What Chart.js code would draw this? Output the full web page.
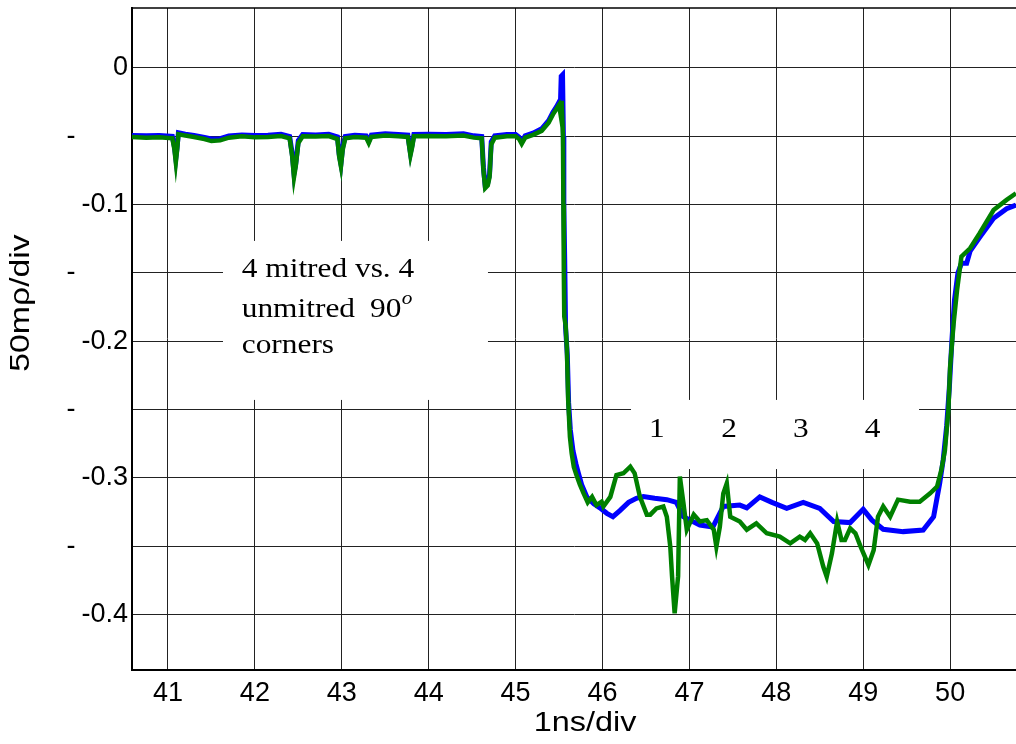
<!DOCTYPE html>
<html>
<head>
<meta charset="utf-8">
<script src="https://cdn.jsdelivr.net/npm/chart.js@4.4.0/dist/chart.umd.min.js"></script>
<style>
  html, body { margin: 0; padding: 0; background: #fff; }
</style>
</head>
<body>
<canvas id="tdr" width="1016" height="744"></canvas>
<script>
// TDR traces: 4 mitred (blue) vs 4 unmitred (green) 90 deg corners
const xTicks = [41, 42, 43, 44, 45, 46, 47, 48, 49, 50];
const yTicks = [0, -0.05, -0.1, -0.15, -0.2, -0.25, -0.3, -0.35, -0.4];

const blueX = [40.586, 40.75, 40.9, 41.05, 41.075, 41.09, 41.105, 41.12, 41.2, 41.3, 41.42, 41.5, 41.6, 41.7, 41.85, 42.0, 42.15, 42.3, 42.4, 42.43, 42.45, 42.47, 42.5, 42.55, 42.7, 42.85, 42.95, 42.97, 42.99, 43.01, 43.04, 43.15, 43.28, 43.31, 43.34, 43.5, 43.65, 43.76, 43.79, 43.81, 43.83, 44.0, 44.2, 44.4, 44.52, 44.61, 44.63, 44.65, 44.68, 44.70, 44.72, 44.76, 44.9, 45.0, 45.04, 45.07, 45.11, 45.2, 45.3, 45.38, 45.43, 45.47, 45.50, 45.515, 45.525, 45.54, 45.55, 45.555, 45.565, 45.575, 45.595, 45.61, 45.63, 45.66, 45.695, 45.72, 45.76, 45.82, 45.90, 45.97, 46.05, 46.12, 46.2, 46.3, 46.39, 46.47, 46.6, 46.74, 46.85, 46.93, 47.12, 47.27, 47.39, 47.58, 47.66, 47.81, 47.95, 48.12, 48.31, 48.5, 48.66, 48.85, 49.0, 49.1, 49.23, 49.46, 49.69, 49.81, 49.88, 49.92, 49.96, 49.99, 50.02, 50.05, 50.09, 50.13, 50.19, 50.23, 50.34, 50.50, 50.65, 50.758];
const blueY = [-0.0495, -0.0497, -0.0495, -0.0500, -0.058, -0.066, -0.058, -0.0475, -0.0485, -0.0495, -0.0508, -0.0520, -0.0518, -0.0498, -0.0490, -0.0495, -0.0492, -0.0485, -0.0502, -0.063, -0.077, -0.070, -0.053, -0.0488, -0.0490, -0.0485, -0.0505, -0.063, -0.070, -0.058, -0.0502, -0.0492, -0.0497, -0.0535, -0.0492, -0.0482, -0.0487, -0.0492, -0.062, -0.056, -0.0487, -0.0485, -0.0487, -0.0482, -0.0497, -0.0502, -0.073, -0.086, -0.084, -0.078, -0.054, -0.0497, -0.0487, -0.0487, -0.0507, -0.0540, -0.0497, -0.0477, -0.0445, -0.0385, -0.0325, -0.0285, -0.0250, -0.0280, -0.0060, -0.0050, -0.0500, -0.1000, -0.1400, -0.1900, -0.2100, -0.2450, -0.2650, -0.2800, -0.2900, -0.2960, -0.3050, -0.3140, -0.3190, -0.3220, -0.3260, -0.3285, -0.324, -0.318, -0.3150, -0.3138, -0.3150, -0.316, -0.318, -0.3285, -0.3346, -0.336, -0.321, -0.320, -0.322, -0.314, -0.318, -0.3223, -0.318, -0.3225, -0.332, -0.3328, -0.3231, -0.331, -0.3377, -0.3394, -0.3382, -0.3285, -0.304, -0.287, -0.262, -0.235, -0.200, -0.170, -0.150, -0.143, -0.143, -0.134, -0.124, -0.110, -0.103, -0.1003];

const greenX = [40.586, 40.75, 40.9, 41.05, 41.075, 41.09, 41.105, 41.12, 41.2, 41.3, 41.42, 41.5, 41.6, 41.7, 41.85, 42.0, 42.15, 42.3, 42.4, 42.43, 42.45, 42.47, 42.5, 42.55, 42.7, 42.85, 42.95, 42.97, 42.99, 43.01, 43.04, 43.15, 43.28, 43.31, 43.34, 43.5, 43.65, 43.76, 43.79, 43.81, 43.83, 44.0, 44.2, 44.4, 44.52, 44.61, 44.63, 44.65, 44.68, 44.70, 44.72, 44.76, 44.9, 45.0, 45.04, 45.07, 45.11, 45.2, 45.3, 45.38, 45.43, 45.47, 45.50, 45.515, 45.53, 45.545, 45.55, 45.555, 45.56, 45.575, 45.59, 45.605, 45.625, 45.645, 45.67, 45.70, 45.74, 45.78, 45.83, 45.88, 45.93, 45.99, 46.01, 46.09, 46.16, 46.24, 46.32, 46.37, 46.43, 46.51, 46.55, 46.62, 46.70, 46.74, 46.78, 46.80, 46.83, 46.87, 46.89, 46.93, 46.97, 47.05, 47.12, 47.20, 47.28, 47.31, 47.35, 47.39, 47.43, 47.47, 47.58, 47.66, 47.77, 47.89, 48.04, 48.16, 48.27, 48.33, 48.39, 48.47, 48.54, 48.58, 48.64, 48.70, 48.75, 48.79, 48.85, 48.91, 48.97, 49.06, 49.12, 49.17, 49.23, 49.31, 49.40, 49.54, 49.65, 49.77, 49.85, 49.90, 49.94, 49.98, 50.00, 50.04, 50.08, 50.13, 50.23, 50.34, 50.50, 50.65, 50.758];
const greenY = [-0.0505, -0.0510, -0.0508, -0.0515, -0.060, -0.069, -0.060, -0.0485, -0.0495, -0.0505, -0.0520, -0.0535, -0.0530, -0.0510, -0.0500, -0.0508, -0.0505, -0.0498, -0.0515, -0.065, -0.080, -0.072, -0.055, -0.0500, -0.0502, -0.0498, -0.0520, -0.065, -0.072, -0.060, -0.0515, -0.0505, -0.0510, -0.0550, -0.0505, -0.0495, -0.0500, -0.0505, -0.064, -0.058, -0.0500, -0.0498, -0.0500, -0.0495, -0.0510, -0.0515, -0.075, -0.088, -0.086, -0.080, -0.056, -0.0510, -0.0500, -0.0500, -0.0520, -0.0555, -0.0510, -0.0490, -0.0460, -0.0400, -0.0340, -0.0300, -0.0270, -0.0330, -0.0240, -0.0500, -0.1000, -0.1500, -0.1820, -0.1880, -0.2050, -0.2430, -0.2700, -0.2820, -0.2920, -0.2980, -0.3050, -0.3110, -0.3180, -0.3140, -0.3200, -0.3175, -0.321, -0.314, -0.298, -0.2967, -0.2919, -0.2967, -0.3138, -0.327, -0.327, -0.3224, -0.321, -0.3285, -0.3504, -0.372, -0.3992, -0.372, -0.299, -0.318, -0.338, -0.327, -0.332, -0.331, -0.338, -0.3504, -0.336, -0.3114, -0.304, -0.3285, -0.332, -0.338, -0.3333, -0.3406, -0.3431, -0.348, -0.3431, -0.3455, -0.3406, -0.348, -0.365, -0.3724, -0.3553, -0.332, -0.3455, -0.3455, -0.337, -0.3406, -0.3504, -0.3638, -0.353, -0.3285, -0.321, -0.3285, -0.316, -0.3175, -0.3175, -0.3114, -0.3065, -0.294, -0.280, -0.2504, -0.2187, -0.187, -0.1625, -0.138, -0.132, -0.121, -0.104, -0.0966, -0.0918];

const cornerLabels = ['1', '2', '3', '4'];
const cornerLabelX = [46.624, 47.456, 48.281, 49.109];

const SANS = "'Liberation Sans', Arial, sans-serif";
const SERIF = "'Liberation Serif', 'Times New Roman', serif";

function toPoints(xs, ys) {
    return xs.map((x, i) => ({ x: x, y: ys[i] }));
}

function stretchedText(ctx, str, x, y, sx) {
    ctx.save();
    ctx.translate(x, y);
    ctx.scale(sx, 1);
    ctx.fillText(str, 0, 0);
    ctx.restore();
}

// white label boxes + annotation text, drawn over the grid but under the traces
const annotations = {
    id: 'annotations',
    beforeDatasetsDraw(chart) {
        const ctx = chart.ctx;
        const xs = chart.scales.x, ys = chart.scales.y;
        const px = v => xs.getPixelForValue(v);
        const py = v => ys.getPixelForValue(v);
        ctx.save();
        ctx.fillStyle = '#fff';
        ctx.fillRect(px(41.633), py(-0.1266), px(44.682) - px(41.633), py(-0.243) - py(-0.1266));
        ctx.fillRect(px(46.328), py(-0.243), px(49.642) - px(46.328), py(-0.2936) - py(-0.243));

        ctx.fillStyle = '#000';
        ctx.textBaseline = 'alphabetic';
        ctx.textAlign = 'left';
        ctx.font = '28px ' + SERIF;
        stretchedText(ctx, '4 mitred vs. 4', px(41.849), py(-0.153), 1.12);
        stretchedText(ctx, 'unmitred', px(41.849), py(-0.1823), 1.12);
        stretchedText(ctx, '90', px(43.324), py(-0.1823), 1.12);
        stretchedText(ctx, 'corners', px(41.849), py(-0.2084), 1.12);
        ctx.font = 'italic 19px ' + SERIF;
        stretchedText(ctx, 'o', px(43.69), py(-0.1725), 1.12);

        ctx.font = '28px ' + SERIF;
        ctx.textAlign = 'center';
        cornerLabels.forEach((t, i) => stretchedText(ctx, t, px(cornerLabelX[i]), py(-0.2703), 1.12));
        ctx.restore();
    },
    afterDraw(chart) {
        const ctx = chart.ctx;
        const a = chart.chartArea;
        ctx.save();
        // top frame line
        ctx.strokeStyle = '#000';
        ctx.lineWidth = 1.5;
        ctx.beginPath();
        ctx.moveTo(a.left, a.top);
        ctx.lineTo(a.right, a.top);
        ctx.stroke();
        // axis titles
        ctx.fillStyle = '#000';
        ctx.font = '27px ' + SANS;
        ctx.textAlign = 'center';
        ctx.textBaseline = 'middle';
        stretchedText(ctx, '1ns/div', 585, 724, 1.2);
        ctx.translate(22, 303);
        ctx.rotate(-Math.PI / 2);
        stretchedText(ctx, '50m\u03C1/div', 0, 0, 1.25);
        ctx.restore();
    }
};

new Chart(document.getElementById('tdr'), {
    type: 'scatter',
    data: {
        datasets: [
            {
                label: 'unmitred',
                data: toPoints(greenX, greenY),
                showLine: true,
                borderColor: '#008000',
                borderWidth: 4.5,
                pointRadius: 0,
                tension: 0,
                order: 0
            },
            {
                label: 'mitred',
                data: toPoints(blueX, blueY),
                showLine: true,
                borderColor: '#0000ff',
                borderWidth: 5,
                pointRadius: 0,
                tension: 0,
                order: 1
            }
        ]
    },
    options: {
        responsive: false,
        animation: false,
        layout: { padding: { top: 8, right: 0, left: 0, bottom: 0 } },
        plugins: {
            legend: { display: false },
            tooltip: { enabled: false }
        },
        scales: {
            x: {
                type: 'linear',
                min: 40.586,
                max: 50.758,
                afterBuildTicks: s => { s.ticks = xTicks.map(v => ({ value: v })); },
                afterFit: s => { s.height = 74; s.paddingLeft = 0; s.paddingRight = 0; },
                grid: { color: '#222', lineWidth: 1, drawTicks: false },
                border: { display: true, color: '#000', width: 2 },
                ticks: {
                    color: '#000',
                    font: { family: SANS, size: 27 },
                    padding: 7,
                    maxRotation: 0,
                    callback: v => String(v)
                }
            },
            y: {
                type: 'linear',
                min: -0.4407,
                max: 0.0439,
                afterBuildTicks: s => { s.ticks = yTicks.map(v => ({ value: v })); },
                afterFit: s => { s.width = 132; s.paddingTop = 0; s.paddingBottom = 0; },
                grid: { color: '#222', lineWidth: 1, drawTicks: false },
                border: { display: true, color: '#000', width: 2 },
                ticks: {
                    color: '#000',
                    font: { family: SANS, size: 27 },
                    padding: 4,
                    callback: v => {
                        const r = Math.round(v * 10) / 10;
                        if (Math.abs(v - r) > 1e-6) return '-       ';
                        return r === 0 ? '0' : String(r);
                    }
                }
            }
        }
    },
    plugins: [annotations]
});
</script>
</body>
</html>
